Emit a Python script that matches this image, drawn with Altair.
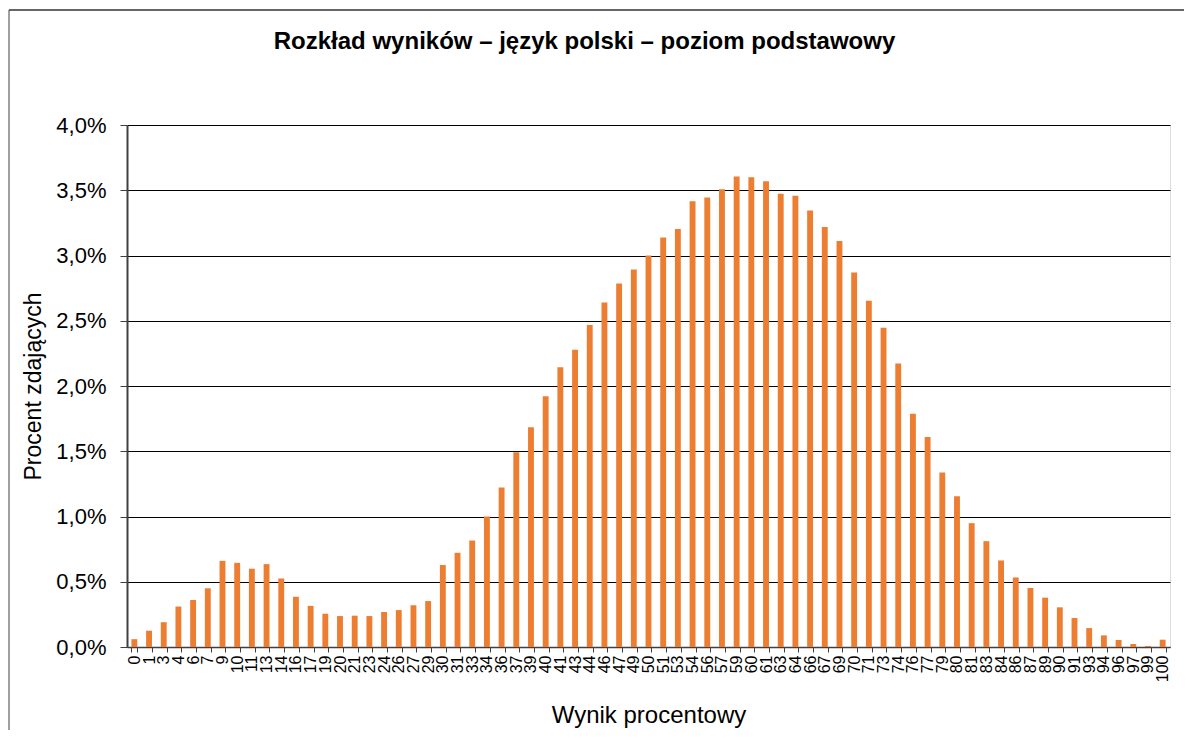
import altair as alt
import pandas as pd

labels = ["0", "1", "3", "4", "6", "7", "9", "10", "11", "13", "14", "16", "17", "19",
          "20", "21", "23", "24", "26", "27", "29", "30", "31", "33", "34", "36", "37",
          "39", "40", "41", "43", "44", "46", "47", "49", "50", "51", "53", "54", "56",
          "57", "59", "60", "61", "63", "64", "66", "67", "69", "70", "71", "73", "74",
          "76", "77", "79", "80", "81", "83", "84", "86", "87", "89", "90", "91", "93",
          "94", "96", "97", "99", "100"]

values = [0.06, 0.125, 0.19, 0.31, 0.36, 0.45, 0.66, 0.645, 0.60, 0.635, 0.525, 0.385,
          0.315, 0.255, 0.237, 0.24, 0.237, 0.268, 0.283, 0.32, 0.352, 0.628, 0.722, 0.816,
          1.0, 1.222, 1.492, 1.684, 1.921, 2.143, 2.278, 2.467, 2.640, 2.786, 2.893, 3.0,
          3.138, 3.204, 3.416, 3.444, 3.508, 3.605, 3.599, 3.569, 3.474, 3.457, 3.344, 3.219,
          3.112, 2.870, 2.653, 2.446, 2.173, 1.788, 1.610, 1.337, 1.156, 0.949,
          0.811, 0.663, 0.533, 0.452, 0.378, 0.304, 0.222, 0.145, 0.089, 0.054, 0.023, 0.008,
          0.056]

y_ticks = [0, 0.5, 1.0, 1.5, 2.0, 2.5, 3.0, 3.5, 4.0]

df = pd.DataFrame({"wynik": labels, "procent": values})

W = 1043
H = 522
FONT = "Liberation Sans"

bars = alt.Chart(df).mark_bar(color="#ED7D31").encode(
    x=alt.X(
        "wynik:O",
        sort=labels,
        scale=alt.Scale(paddingInner=0.6, paddingOuter=0.3),
        axis=alt.Axis(
            title="Wynik procentowy",
            labelAngle=270,
            labelFontSize=16,
            labelOverlap=False,
            labelFont=FONT,
            labelColor="black",
            labelPadding=3,
            tickBand="extent",
            tickSize=5,
            tickColor="#404040",
            domainColor="#404040",
            domainWidth=1.5,
            grid=False,
            titleFont=FONT,
            titleFontSize=24,
            titleFontWeight="normal",
            titleColor="black",
            titleX=W / 2,
            titleY=68,
            titleBaseline="middle",
        ),
    ),
    y=alt.Y(
        "procent:Q",
        scale=alt.Scale(domain=[0, 4], nice=False),
        axis=alt.Axis(
            title="Procent zdających",
            values=y_ticks,
            labelExpr="replace(format(datum.value, '.1f'), '.', ',') + '%'",
            labelFontSize=22,
            labelFont=FONT,
            labelColor="black",
            labelPadding=14,
            tickSize=7,
            tickColor="#404040",
            domainColor="#404040",
            domainWidth=2,
            grid=True,
            gridColor="#000000",
            gridWidth=1,
            titleFont=FONT,
            titleFontSize=23,
            titleFontWeight="normal",
            titleColor="black",
            titleAngle=270,
            titleX=-94,
            titleY=H / 2,
            titleAlign="center",
            titleBaseline="middle",
        ),
    ),
)

frame_src = alt.Data(values=[{"k": 1}])
left_rule = alt.Chart(frame_src).mark_rule(color="#808080", strokeWidth=1.5).encode(
    x=alt.value(-118), y=alt.value(-115), y2=alt.value(700)
)
top_rule = alt.Chart(frame_src).mark_rule(color="#333333", strokeWidth=1.5).encode(
    x=alt.value(-118), x2=alt.value(1200), y=alt.value(-115)
)

chart = alt.layer(left_rule, top_rule, bars).properties(
    width=W,
    height=H,
    autosize=alt.AutoSizeParams(type="none"),
    padding={"left": 119, "top": 117, "right": 14, "bottom": 83},
    title=alt.TitleParams(
        "Rozkład wyników – język polski – poziom podstawowy",
        font=FONT,
        fontSize=24,
        fontWeight="bold",
        color="black",
        anchor="middle",
        dx=-64,
        dy=49,
    ),
).configure_view(stroke="#868686", strokeWidth=2).configure(background="white")

chart.save("out.html", embed_options={"renderer": "svg", "actions": False})
